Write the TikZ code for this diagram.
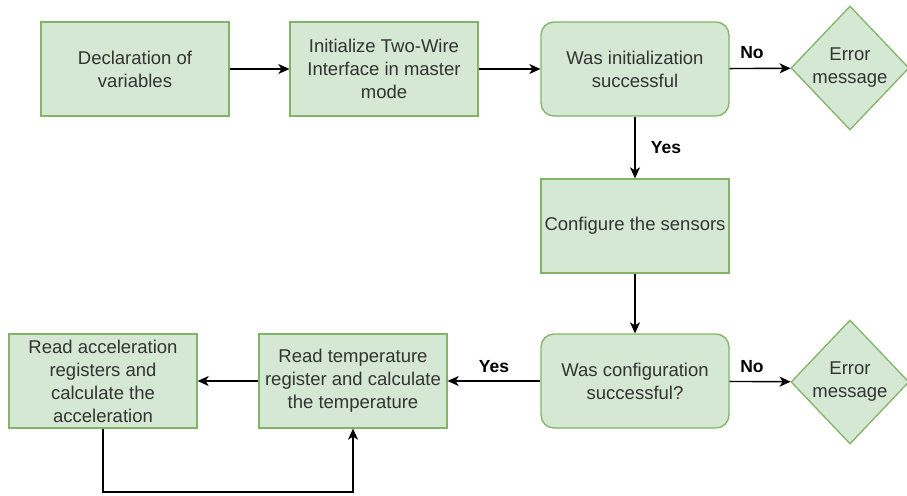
\documentclass[tikz,border=0pt]{standalone}
\usepackage{fontspec}
\setmainfont{Liberation Sans}
\usetikzlibrary{arrows.meta}
\usetikzlibrary{shapes.geometric}
\definecolor{boxfill}{HTML}{D5E8D4}
\definecolor{boxline}{HTML}{82B366}
\definecolor{boxtext}{HTML}{333333}

\begin{document}
\begin{tikzpicture}[x=1pt,y=-1pt]
    \tikzset{vertex/.style = {shape=rectangle,draw=boxline,fill=boxfill,line width=1.3pt,
        minimum width=188pt,minimum height=94pt,inner sep=0pt,align=center,
        text=boxtext,font=\fontsize{18.5}{23}\selectfont}}
    \tikzset{vertex3/.style = {vertex,rounded corners=13pt}}
    \tikzset{vertex4/.style = {vertex,shape=diamond,minimum width=118pt,minimum height=124pt}}
    \tikzset{vertex2/.style = {shape=rectangle,draw=none,inner sep=0pt,font=\fontsize{17.5}{21}\selectfont\bfseries}}
    \tikzset{edge/.style = {-{Stealth[length=11pt,width=10pt,inset=3pt]},line width=1.4pt}}

    \useasboundingbox (0,0) rectangle (907,495);

    % vertices

    \node[vertex] (decl) at (135,69) {Declaration of\\variables};
    \node[vertex] (twi) at (384,69) {Initialize Two-Wire\\Interface in master\\mode};
    \node[vertex3] (initok) at (635,69) {Was initialization\\successful};
    \node[vertex4] (err1) at (850,68) {Error\\message};
    \node[vertex] (conf) at (635,226) {Configure the sensors};
    \node[vertex3] (confok) at (635,381) {Was configuration\\successful?};
    \node[vertex4] (err2) at (850,382) {Error\\message};
    \node[vertex] (temp) at (353,381) {Read temperature\\register and calculate\\the temperature};
    \node[vertex] (acc) at (103,381) {Read acceleration\\registers and\\calculate the\\acceleration};

    \coordinate (c1) at (103,492);
    \coordinate (c2) at (353,492);

    \node[vertex2] (no1) at (752,53) {No};
    \node[vertex2] (yes1) at (666,148) {Yes};
    \node[vertex2] (yes2) at (494,367) {Yes};
    \node[vertex2] (no2) at (752,367) {No};

    %edges
    \draw[edge] (decl) to (twi);
    \draw[edge] (twi) to (initok);
    \draw[edge] (initok) to (err1);
    \draw[edge] (initok) to (conf);
    \draw[edge] (conf) to (confok);
    \draw[edge] (confok) to (err2);
    \draw[edge] (confok) to (temp);
    \draw[edge] (temp) to (acc);
    \draw[edge] (acc.south) -- (c1) -- (c2) -- (temp.south);
\end{tikzpicture}
\end{document}
